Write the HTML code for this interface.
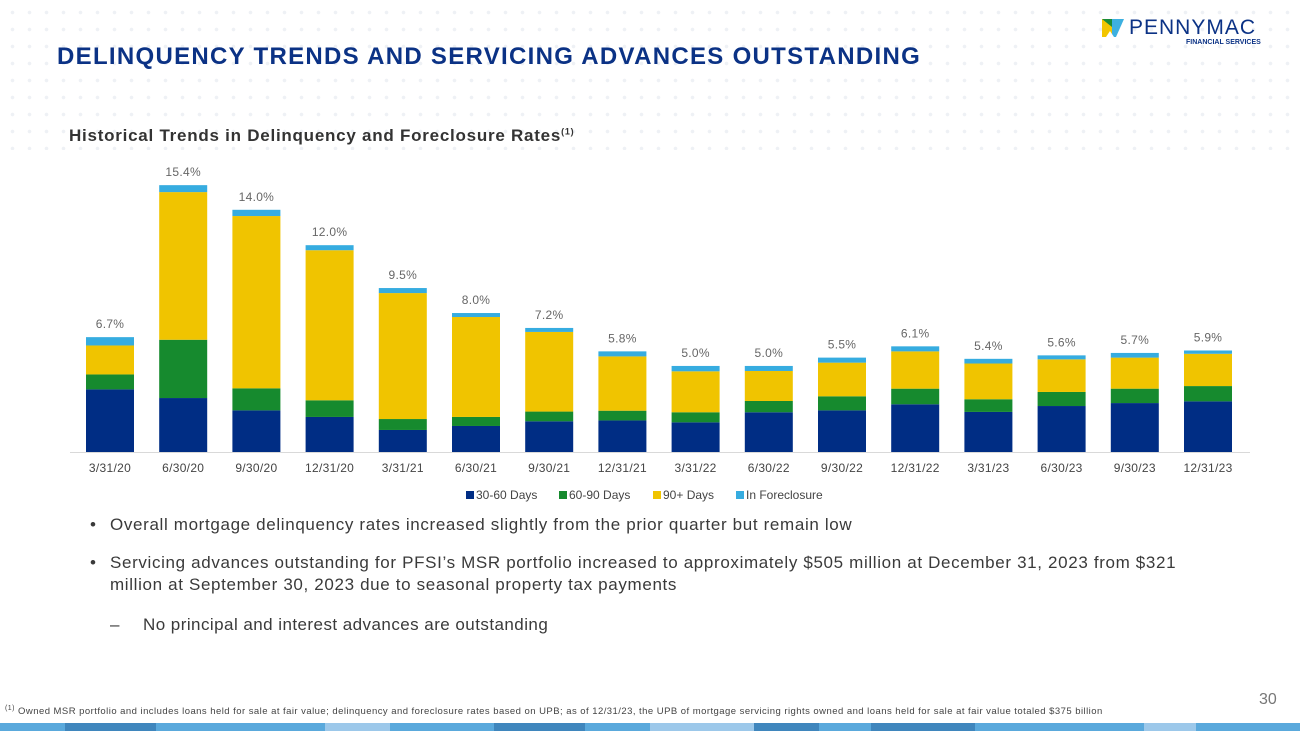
<!DOCTYPE html>
<html><head><meta charset="utf-8">
<style>
body{margin:0;width:1300px;height:731px;overflow:hidden;background:#fff;font-family:"Liberation Sans",sans-serif;position:relative}
.abs{position:absolute}
#dots{position:absolute;left:0;top:0;width:1300px;height:150px;background-image:radial-gradient(circle,#eef1f5 1.6px,transparent 2px);background-size:17px 17px;background-position:4px 4px}
.bul{position:absolute;left:110px;font-size:17px;color:#3a3a3a;line-height:22px;letter-spacing:0.65px}
.bul::before{content:"•";position:absolute;left:-20px}
</style></head><body>
<div id="dots"></div>
<div class="abs" style="left:57px;top:43px;font-size:24px;font-weight:bold;color:#0b3285;letter-spacing:1.3px;white-space:nowrap">DELINQUENCY TRENDS AND SERVICING ADVANCES OUTSTANDING</div>
<div class="abs" style="left:1102px;top:16px;width:180px;height:20px">
<svg width="22" height="18" style="position:absolute;left:0;top:3px"><polygon points="0,0 10,0 10,18 0,18" fill="#f2c500"/><polygon points="10,0 22,0 14,18 10,18" fill="#3db0e0"/><polygon points="0,0 10,0 10,8" fill="#1a8c3a"/><polygon points="4,18 8,12 12,18" fill="#fff"/></svg>
<span style="position:absolute;left:27px;top:0;font-size:21px;color:#0b3285;letter-spacing:1px">PENNYMAC</span>
<span style="position:absolute;left:84px;top:23px;font-size:7px;color:#0b3285;font-weight:bold">FINANCIAL SERVICES</span></div>
<div class="abs" style="left:69px;top:126px;font-size:17px;font-weight:bold;color:#333;letter-spacing:0.75px;white-space:nowrap">Historical Trends in Delinquency and Foreclosure Rates<sup style="font-size:9px">(1)</sup></div>
<svg id="chart" class="abs" style="left:0;top:150px" width="1300" height="360"></svg>
<div class="bul" style="top:514px;white-space:nowrap">Overall mortgage delinquency rates increased slightly from the prior quarter but remain low</div>
<div class="bul" style="top:552px;width:1085px">Servicing advances outstanding for PFSI’s MSR portfolio increased to approximately $505 million at December 31, 2023 from $321 million at September 30, 2023 due to seasonal property tax payments</div>
<div class="abs" style="left:110px;top:615px;font-size:17px;color:#3a3a3a;letter-spacing:0.45px"><span style="position:absolute;left:0">–</span><span style="position:absolute;left:33px;white-space:nowrap">No principal and interest advances are outstanding</span></div>
<div class="abs" style="left:1259px;top:691px;font-size:16px;color:#777">30</div>
<div class="abs" style="left:5px;top:705px;font-size:9.5px;color:#444;white-space:nowrap;letter-spacing:0.46px"><sup style="font-size:7px">(1)</sup> Owned MSR portfolio and includes loans held for sale at fair value; delinquency and foreclosure rates based on UPB; as of 12/31/23, the UPB of mortgage servicing rights owned and loans held for sale at fair value totaled $375 billion</div>
<div class="abs" style="left:0;top:723px;width:1300px;height:8px;background:linear-gradient(90deg,#5aa9dc 0 5%,#3f86bd 5% 12%,#5aa9dc 12% 25%,#9cc8ea 25% 30%,#5aa9dc 30% 38%,#3f86bd 38% 45%,#5aa9dc 45% 50%,#9cc8ea 50% 58%,#3f86bd 58% 63%,#5aa9dc 63% 67%,#3f86bd 67% 75%,#5aa9dc 75% 88%,#9cc8ea 88% 92%,#5aa9dc 92% 100%)"></div>
<script>
const categories=["3/31/20","6/30/20","9/30/20","12/31/20","3/31/21","6/30/21","9/30/21","12/31/21","3/31/22","6/30/22","9/30/22","12/31/22","3/31/23","6/30/23","9/30/23","12/31/23"];
const d3060=[3.61,3.11,2.40,2.02,1.27,1.50,1.77,1.82,1.71,2.29,2.40,2.75,2.31,2.65,2.82,2.92];
const d6090=[0.86,3.36,1.27,0.96,0.63,0.52,0.56,0.56,0.58,0.65,0.81,0.90,0.73,0.81,0.83,0.88];
const d90=[1.67,8.51,9.93,8.65,7.26,5.76,4.59,3.13,2.36,1.73,1.94,2.15,2.06,1.88,1.79,1.86];
const fcl=[0.48,0.40,0.36,0.29,0.29,0.23,0.23,0.29,0.31,0.29,0.29,0.29,0.27,0.23,0.27,0.19];
const totals=["6.7%","15.4%","14.0%","12.0%","9.5%","8.0%","7.2%","5.8%","5.0%","5.0%","5.5%","6.1%","5.4%","5.6%","5.7%","5.9%"];
const seriesNames=["30-60 Days","60-90 Days","90+ Days","In Foreclosure"];
const colors=["#002d84","#168a2e","#f0c400","#36ace0"];
const svg=document.getElementById('chart');const NS="http://www.w3.org/2000/svg";
const base=302,ppu=17.35,x0=110,step=73.2,bw=48;
const xs=i=>x0+i*step, ys=v=>base-v*ppu;
function mk(t,a){const e=document.createElementNS(NS,t);for(const k in a)e.setAttribute(k,a[k]);svg.appendChild(e);return e;}
const ax=mk('line',{x1:70,x2:1250,y1:base+0.5,y2:base+0.5,stroke:'#d9d9d9','stroke-width':1});


const series=[d3060,d6090,d90,fcl];
categories.forEach((c,i)=>{let acc=0;
 series.forEach((s,j)=>{const r=mk('rect',{x:xs(i)-bw/2,y:ys(acc+s[i]),width:bw,height:s[i]*ppu,fill:colors[j]});
  
  
  acc+=s[i];});
 const t=mk('text',{x:xs(i),y:ys(acc)-9,'text-anchor':'middle','font-size':12,fill:'#666','letter-spacing':0.3});t.textContent=totals[i];
 
 
 const l=mk('text',{x:xs(i),y:base+20,'text-anchor':'middle','font-size':12,fill:'#444','letter-spacing':0.3});l.textContent=c;
 
 
});
const lx=[466,559,653,736];
seriesNames.forEach((n,j)=>{const r=mk('rect',{x:lx[j],y:341,width:8,height:8,fill:colors[j]});
 
 
 const t=mk('text',{x:lx[j]+10,y:349,'font-size':12,fill:'#444'});t.textContent=n;
 
 });
</script>
</body></html>
